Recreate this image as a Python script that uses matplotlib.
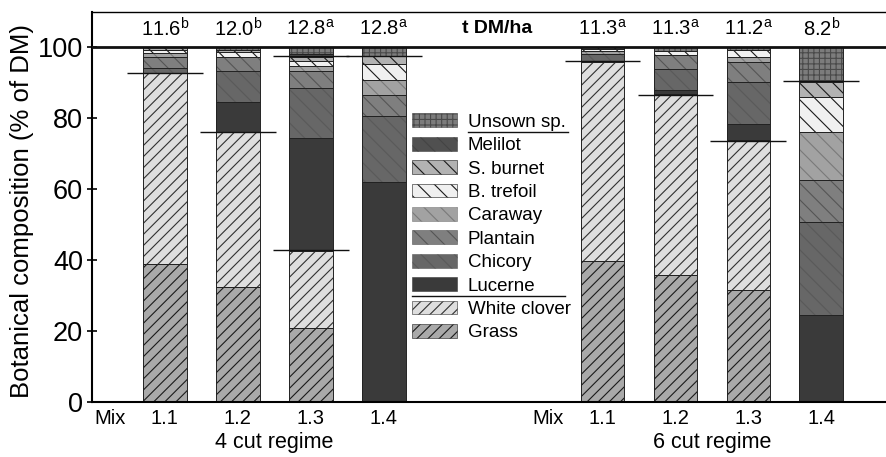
import numpy as np
import matplotlib.pyplot as plt
from matplotlib.patches import Patch
from matplotlib.lines import Line2D

plt.rcParams['font.family'] = ['Liberation Sans', 'DejaVu Sans']
plt.rcParams['mathtext.fontset'] = 'custom'
plt.rcParams['mathtext.rm'] = 'Liberation Sans'
plt.rcParams['hatch.linewidth'] = 0.8

# Bars: 4 cut regime mixes 1.1-1.4, then 6 cut regime mixes 1.1-1.4
mixes = ['1.1', '1.2', '1.3', '1.4', '1.1', '1.2', '1.3', '1.4']
positions = [1, 2, 3, 4, 7, 8, 9, 10]
yields = ['11.6', '12.0', '12.8', '12.8', '11.3', '11.3', '11.2', '8.2']
yield_letters = ['b', 'b', 'a', 'a', 'a', 'a', 'a', 'b']
regimes = ['4 cut regime', '6 cut regime']
regime_centres = [2.5, 8.5]
mix_label_pos = [0.25, 6.25]

# Botanical composition (% of DM), bottom to top of each stack
grass        = [38.9, 32.3, 20.9, 0.0, 39.7, 35.8, 31.5, 0.0]
white_clover = [54.0, 43.8, 21.7, 0.0, 56.2, 51.0, 42.3, 0.0]
lucerne      = [0.0, 8.5, 32.0, 62.0, 0.0, 1.1, 4.7, 24.4]
chicory      = [1.4, 8.9, 13.9, 18.8, 2.2, 6.1, 11.7, 26.4]
plantain     = [3.0, 3.8, 5.0, 5.7, 0.0, 4.0, 5.7, 11.7]
caraway      = [1.2, 0.0, 1.4, 4.2, 0.8, 0.0, 1.4, 13.6]
b_trefoil    = [0.8, 1.4, 1.4, 4.7, 0.6, 1.0, 1.9, 9.9]
s_burnet     = [0.7, 0.5, 1.0, 2.3, 0.5, 0.0, 0.0, 4.2]
melilot      = [0.0, 0.0, 0.8, 0.0, 0.0, 0.0, 0.0, 0.0]
unsown       = [0.0, 0.8, 1.9, 2.3, 0.0, 1.0, 0.8, 9.8]

# short horizontal marks drawn across the bars
mark_bar = [1, 2, 3, 3, 4, 7, 8, 9, 10]
mark_val = [92.9, 76.1, 42.8, 97.5, 97.7, 96.1, 86.7, 73.6, 90.5]

species = ['Grass', 'White clover', 'Lucerne', 'Chicory', 'Plantain',
           'Caraway', 'B. trefoil', 'S. burnet', 'Melilot', 'Unsown sp.']
values = [grass, white_clover, lucerne, chicory, plantain,
          caraway, b_trefoil, s_burnet, melilot, unsown]
# fill, hatch, hatch colour
styles = [('#a9a9a9', '///', '#1a1a1a'),
          ('#dedede', '///', '#303030'),
          ('#3a3a3a', '', '#3a3a3a'),
          ('#676767', '\\\\', '#5a5a5a'),
          ('#7f7f7f', '\\\\', '#555555'),
          ('#a2a2a2', '\\\\', '#7a7a7a'),
          ('#f0f0f0', '\\\\', '#1a1a1a'),
          ('#b2b2b2', '\\\\', '#1a1a1a'),
          ('#505050', '\\\\', '#444444'),
          ('#7c7c7c', '+++', '#4a4a4a')]

fig = plt.figure(figsize=(8.87, 4.57), dpi=100)
ax = fig.add_axes([92 / 887, 55 / 457, 1 - 92 / 887, 390 / 457])

width = 0.6
pos = np.array(positions, dtype=float)
bottom = np.zeros(len(pos))
handles = []
for name, vals, (fc, hatch, hc) in zip(species, values, styles):
    vals = np.array(vals)
    keep = vals > 0
    ax.bar(pos[keep], vals[keep], width, bottom=bottom[keep], color=fc,
           edgecolor=hc, hatch=hatch, linewidth=0)
    ax.bar(pos[keep], vals[keep], width, bottom=bottom[keep],
           facecolor='none', edgecolor='#222222', linewidth=0.7)
    bottom += vals
    handles.append(Patch(facecolor=fc, edgecolor=hc, hatch=hatch,
                         linewidth=0.4, label=name))

ax.hlines(mark_val, np.array(mark_bar) - 0.52, np.array(mark_bar) + 0.52,
          color='#111111', linewidth=1.0, zorder=3)

ax.axhline(100, color='#111111', linewidth=2.0, zorder=4)

for x, y, letter in zip(positions, yields, yield_letters):
    ax.text(x, 105.3, y + '$^{\\mathrm{' + letter + '}}$', ha='center',
            va='center', fontsize=14.5)
ax.text(5.55, 105.3, 't DM/ha', ha='center', va='center', fontsize=14,
        fontweight='bold')

ax.set_xlim(0, 10.9)
ax.set_ylim(0, 110)
ax.set_yticks([0, 20, 40, 60, 80, 100])
ax.tick_params(axis='y', labelsize=19.5, direction='inout', length=7,
               width=1.2, pad=3)
ax.set_xticks(mix_label_pos + positions)
ax.set_xticklabels(['Mix', 'Mix'] + mixes)
ax.tick_params(axis='x', labelsize=14.5, length=0, pad=5)
ax.set_ylabel('Botanical composition (% of DM)', fontsize=18.5)
ax.yaxis.set_label_coords(-0.073, 0.49)

for x, label in zip(regime_centres, regimes):
    ax.text(x, -0.104, label, transform=ax.get_xaxis_transform(),
            ha='center', va='center', fontsize=15.5)

ax.spines['right'].set_visible(False)
ax.spines['left'].set_linewidth(1.5)
ax.spines['bottom'].set_linewidth(1.5)
ax.spines['top'].set_linewidth(1.0)

leg = ax.legend(handles[::-1], species[::-1], loc='upper left',
                bbox_to_anchor=(0.402, 0.74), frameon=False, fontsize=13.5,
                borderpad=0, borderaxespad=0, handlelength=2.4,
                handleheight=0.75, labelspacing=0.32, handletextpad=0.6)

# underline "Unsown sp." and "Lucerne" in the legend
fig.canvas.draw()
renderer = fig.canvas.get_renderer()
inv = fig.transFigure.inverted()
texts = leg.get_texts()
patches = leg.get_patches()
tb = texts[0].get_window_extent(renderer)
(x0, y0), (x1, _) = inv.transform([(tb.x0, tb.y0 - 1), (tb.x1 + 2, tb.y0)])
fig.add_artist(Line2D([x0, x1], [y0, y0], color='#111111', linewidth=1.0))
tb = texts[7].get_window_extent(renderer)
pb = patches[7].get_window_extent(renderer)
(x0, y0), (x1, _) = inv.transform([(pb.x0, tb.y0 - 1), (tb.x1 + 30, tb.y0)])
fig.add_artist(Line2D([x0, x1], [y0, y0], color='#111111', linewidth=1.0))

plt.savefig('out.png', dpi=100)
